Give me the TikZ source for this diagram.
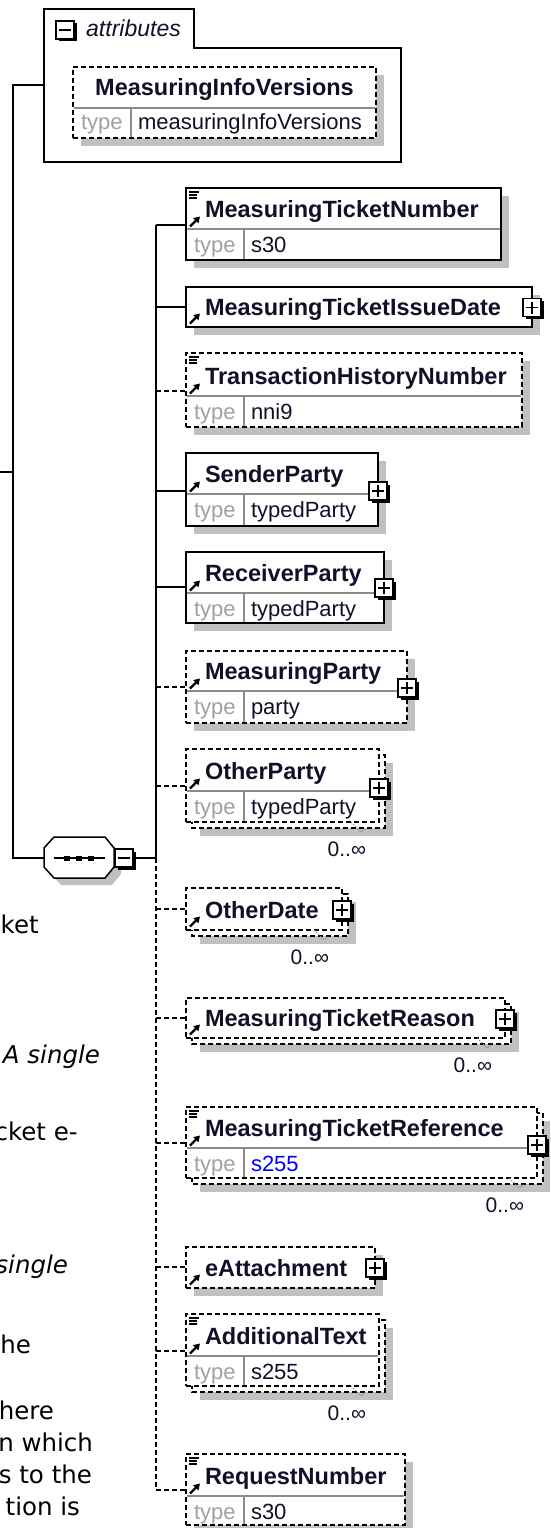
\documentclass[tikz,border=0pt]{standalone}
\usepackage{fontspec}
\setmainfont{Liberation Sans}
\newfontfamily\vfont{DejaVu Sans}
\usetikzlibrary{arrows.meta,fit}

\definecolor{namec}{HTML}{101028}
\definecolor{typec}{HTML}{A0A0A0}
\definecolor{shadowc}{HTML}{C0C0C0}
\definecolor{sepc}{HTML}{8C8C8C}
\definecolor{bluec}{HTML}{0000FF}

\tikzset{
  solidb/.style={draw=black, line width=1.6, fill=white},
  dashb/.style={draw=black, line width=1.5, dash pattern=on 5pt off 3pt, fill=white},
  conn/.style={draw=black, line width=1.5},
  dconn/.style={draw=black, line width=1.5, dash pattern=on 5pt off 3pt},
  sepl/.style={draw=sepc, line width=1.2},
  nametext/.style={font=\fontsize{23.5}{28}\selectfont\bfseries, text=namec, anchor=base west, inner sep=0, outer sep=0},
  typelbl/.style={font=\fontsize{22}{26}\selectfont, text=typec, anchor=base west, inner sep=0, outer sep=0},
  typeval/.style={font=\fontsize{22}{26}\selectfont, text=namec, anchor=base west, inner sep=0, outer sep=0},
  multl/.style={font=\fontsize{21}{25}\selectfont, text=namec, anchor=base east, inner sep=0, outer sep=0},
  frag/.style={font=\vfont\fontsize{24.5}{30}\selectfont, text=black, anchor=base east, inner sep=0, outer sep=0},
  fragi/.style={frag, font=\vfont\itshape\fontsize{24.5}{30}\selectfont},
  pboxst/.style={draw=black, fill=white, line width=1.4, minimum size=18, inner sep=0, outer sep=0},
  refarr/.style={line width=2.2, -{Triangle[length=6pt,width=7pt]}},
}

% element with a type row: id, style, x1, y1, x2, ysep, y2, name, type value
\newcommand{\elemT}[9]{%
  \node[fit={(#3,#4) (#5,#7)}, inner sep=0, outer sep=0, #2] (#1) {};
  \draw[sepl] ({#3+1},#6) -- ({#5-1},#6);
  \draw[sepl] ({#3+58},#6) -- ({#3+58},{#7-1});
  \node[nametext] (#1-n) at ({#3+19},{#6-12}) {#8};
  \node[typelbl] (#1-t) at ({#3+8},{#6+23}) {type};
  \node[typeval] (#1-v) at ({#3+65},{#6+23}) {#9};
  \draw[refarr] ({#3+4},{#6-2.5}) -- ({#3+14},{#6-12.5});
}
% element with one row: id, style, x1, y1, x2, y2, name
\newcommand{\elemS}[7]{%
  \node[fit={(#3,#4) (#5,#6)}, inner sep=0, outer sep=0, #2] (#1) {};
  \node[nametext] (#1-n) at ({#3+19},{#6-12}) {#7};
  \draw[refarr] ({#3+4},{#6-3.5}) -- ({#3+14},{#6-13.5});
}
\newcommand{\docic}[2]{%
  \draw[line width=1.2] ({#1+3},{#2+4}) -- ({#1+13},{#2+4});
  \draw[line width=1.2] ({#1+3},{#2+7}) -- ({#1+11},{#2+7});
  \draw[line width=1.2] ({#1+3},{#2+10}) -- ({#1+11},{#2+10});
}
\newcommand{\shadw}[4]{\fill[shadowc] ({#1+8},{#2+8}) rectangle ({#3+8},{#4+8});}
\newcommand{\stackd}[4]{%
  \fill[shadowc] ({#1+14},{#2+14}) rectangle ({#3+14},{#4+14});
  \draw[dashb] ({#1+6},{#2+6}) rectangle ({#3+6},{#4+6});
}
\newcommand{\multmark}[3]{%
  \draw[sepc, line width=1, dash pattern=on 1.5pt off 1.5pt] ({#2-28},#3) -- ({#2-18},{#3+10}) -- ({#2-13},{#3+6});
  \node[multl] (#1) at ({#2-13},{#3+34.5}) {0..∞};
}
\newcommand{\plusb}[3]{%
  \fill ({#2-9+2.5},{#3-9+2.5}) rectangle ({#2+9+2.5},{#3+9+2.5});
  \node[pboxst] (#1) at (#2,#3) {};
  \draw[line width=1.4] ({#2-6},#3) -- ({#2+6},#3) (#2,{#3-6}) -- (#2,{#3+6});
}
\newcommand{\minusb}[3]{%
  \fill ({#2-9+2.5},{#3-9+2.5}) rectangle ({#2+9+2.5},{#3+9+2.5});
  \node[pboxst] (#1) at (#2,#3) {};
  \draw[line width=1.4] ({#2-6},#3) -- ({#2+6},#3);
}

\begin{document}
\begin{tikzpicture}[x=1pt,y=-1pt]
\useasboundingbox (0,0) rectangle (550,1528);
\clip (0,0) rectangle (550,1528);

% ---------- attributes ----------
\draw[line width=1.6, fill=white] (44,162) -- (44,9) -- (194,9) -- (194,48) -- (401,48) -- (401,162) -- cycle;
\minusb{attrm}{65}{30}
\node[font=\fontsize{23}{28}\selectfont\itshape, text=namec, anchor=base west, inner sep=0] (attrt) at (86,37) {attributes};
\shadw{73}{67}{376}{138}
\node[fit={(73,67) (376,138)}, inner sep=0, outer sep=0, dashb] (miv) {};
\draw[sepl] (74,108) -- (375,108);
\draw[sepl] (131,108) -- (131,137);
\node[nametext, anchor=base] (miv-n) at (224.5,95) {MeasuringInfoVersions};
\node[typelbl] (miv-t) at (81,129) {type};
\node[typeval] (miv-v) at (138,129) {measuringInfoVersions};
\coordinate (attrW) at (44,85);

% ---------- sequence compositor ----------
\fill[shadowc] (51,855) -- (61,844) -- (112,844) -- (121,855) -- (121,874) -- (112,885) -- (61,885) -- (51,874) -- cycle;
\node[minimum width=70, minimum height=41, inner sep=0, outer sep=0] (seq) at (79,857.5) {};
\draw[line width=1.5, fill=white] (44,848) -- (54,837) -- (105,837) -- (114,848) -- (114,867) -- (105,878) -- (54,878) -- (44,867) -- cycle;
\draw[line width=1.5] (54,858) -- (105,858);
\fill (63.6,855.5) rectangle (69.6,860.5);
\fill (76,855.5) rectangle (82,860.5);
\fill (87.5,855.5) rectangle (93.5,860.5);
\minusb{seqm}{124}{858}

% ---------- left tree ----------
\coordinate (L1) at (13,85);
\coordinate (L2) at (13,858);
\coordinate (P0) at (0,472);
\coordinate (P1) at (13,472);
\draw[conn] (attrW) -- (L1) -- (L2) -- (L2 -| seq.west);
\draw[conn] (P0) -- (P1);

% ---------- branch ----------
\coordinate (c-mtn) at (156,225);
\coordinate (c-mtid) at (156,307);
\coordinate (c-thn) at (156,391);
\coordinate (c-sp) at (156,491);
\coordinate (c-rp) at (156,587);
\coordinate (c-mp) at (156,687);
\coordinate (c-op) at (156,786);
\coordinate (bS) at (156,858);
\coordinate (c-od) at (156,909);
\coordinate (c-mtr) at (156,1018);
\coordinate (c-mtref) at (156,1143);
\coordinate (c-ea) at (156,1267);
\coordinate (c-at) at (156,1351);
\coordinate (c-rn) at (156,1490);
\draw[conn] (seqm.east) -- (bS);
\draw[conn] (c-mtn) -- (bS);
\draw[dconn] (bS) -- (c-rn);

% ---------- elements ----------
\shadw{186}{188}{501}{260}
\elemT{mtn}{solidb}{186}{188}{501}{229}{260}{MeasuringTicketNumber}{s30}
\docic{186}{188}

\shadw{186}{287}{532}{327}
\elemS{mtid}{solidb}{186}{287}{532}{327}{MeasuringTicketIssueDate}
\plusb{mtid-p}{532}{307.5}

\shadw{186}{353}{522}{427}
\elemT{thn}{dashb}{186}{353}{522}{396}{427}{TransactionHistoryNumber}{nni9}
\docic{186}{353}

\shadw{186}{453}{378}{526}
\elemT{sp}{solidb}{186}{453}{378}{494}{526}{SenderParty}{typedParty}
\plusb{sp-p}{378}{491}

\shadw{186}{552}{384}{623}
\elemT{rp}{solidb}{186}{552}{384}{593}{623}{ReceiverParty}{typedParty}
\plusb{rp-p}{384}{588}

\shadw{186}{651}{407}{723}
\elemT{mp}{dashb}{186}{651}{407}{691}{723}{MeasuringParty}{party}
\plusb{mp-p}{407}{688}

\stackd{186}{749}{379}{822}
\elemT{op}{dashb}{186}{749}{379}{791}{822}{OtherParty}{typedParty}
\plusb{op-p}{379}{788}
\multmark{op-m}{379}{822}

\stackd{186}{888}{342}{930}
\elemS{od}{dashb}{186}{888}{342}{930}{OtherDate}
\plusb{od-p}{342}{910}
\multmark{od-m}{342}{930}

\stackd{186}{998}{505}{1038}
\elemS{mtr}{dashb}{186}{998}{505}{1038}{MeasuringTicketReason}
\plusb{mtr-p}{505}{1019}
\multmark{mtr-m}{505}{1038}

\stackd{186}{1107}{537}{1178}
\elemT{mtref}{dashb}{186}{1107}{537}{1148}{1178}{MeasuringTicketReference}{\textcolor{bluec}{s255}}
\docic{186}{1107}
\plusb{mtref-p}{537}{1145}
\multmark{mtref-m}{537}{1178}

\shadw{186}{1247}{375}{1288}
\elemS{ea}{dashb}{186}{1247}{375}{1288}{eAttachment}
\plusb{ea-p}{375}{1268}

\stackd{186}{1314}{379}{1386}
\elemT{at}{dashb}{186}{1314}{379}{1356}{1386}{AdditionalText}{s255}
\docic{186}{1314}
\multmark{at-m}{379}{1386}

\shadw{186}{1454}{405}{1525}
\elemT{rn}{dashb}{186}{1454}{405}{1496}{1525}{RequestNumber}{s30}
\docic{186}{1454}

% ---------- connectors ----------
\draw[conn] (c-mtn) -- (c-mtn -| mtn.west);
\draw[conn] (c-mtid) -- (c-mtid -| mtid.west);
\draw[dconn] (c-thn) -- (c-thn -| thn.west);
\draw[conn] (c-sp) -- (c-sp -| sp.west);
\draw[conn] (c-rp) -- (c-rp -| rp.west);
\draw[dconn] (c-mp) -- (c-mp -| mp.west);
\draw[dconn] (c-op) -- (c-op -| op.west);
\draw[dconn] (c-od) -- (c-od -| od.west);
\draw[dconn] (c-mtr) -- (c-mtr -| mtr.west);
\draw[dconn] (c-mtref) -- (c-mtref -| mtref.west);
\draw[dconn] (c-ea) -- (c-ea -| ea.west);
\draw[dconn] (c-at) -- (c-at -| at.west);
\draw[dconn] (c-rn) -- (c-rn -| rn.west);

% ---------- cropped text at left ----------
\node[frag] (f1) at (38.7,933) {ket};
\node[fragi] (f2) at (100,1063) {A single};
\node[frag] (f3) at (77.7,1140) {cket e-};
\node[fragi] (f4) at (68,1273) {single};
\node[frag] (f5) at (31,1353) {he};
\node[frag] (f6) at (54,1419) {here};
\node[frag] (f7) at (93,1451) {n which};
\node[frag] (f8) at (92,1483) {s to the};
\node[frag] (f9) at (80,1515) {tion is};
\end{tikzpicture}
\end{document}
